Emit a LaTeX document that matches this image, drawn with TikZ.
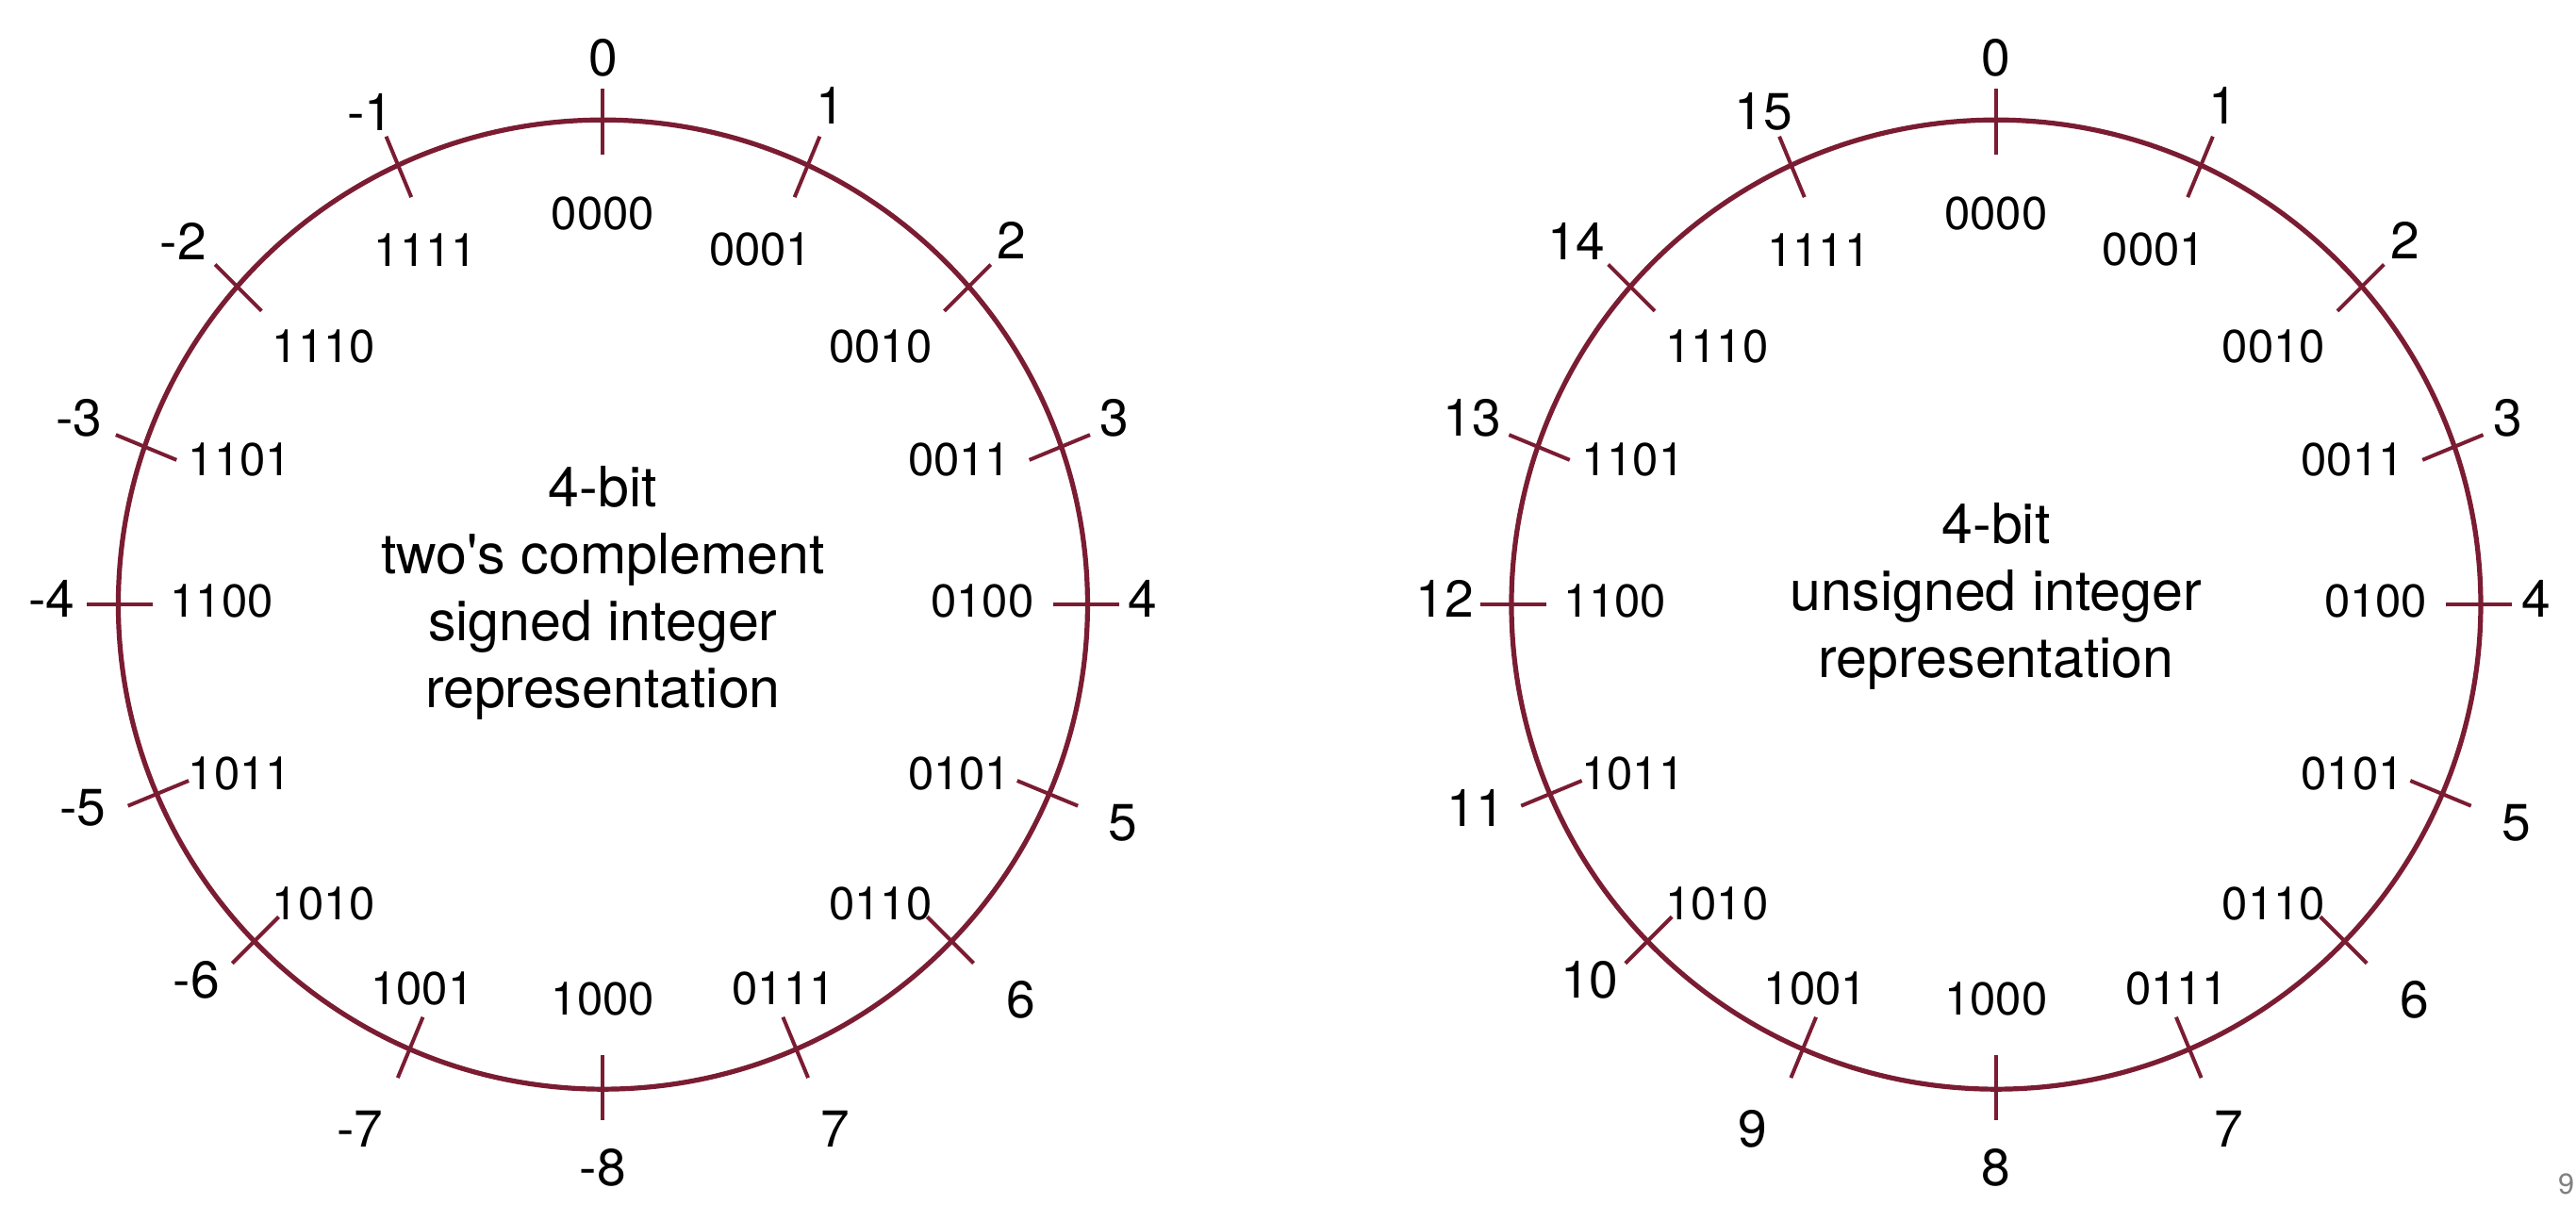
\documentclass[tikz,border=0pt]{standalone}
\usepackage{fontspec}
\setmainfont{TeX Gyre Heros}
\usepackage{tikz}
\usetikzlibrary{positioning,calc}
\definecolor{wheel}{RGB}{122,28,50}

% index / tick angle / value label x,y / bit label x,y / bits / signed value
\newcommand{\wheeldata}{%
    0/90/0/6.65/0/4.76/0000/0,
    1/65/2.77/6.08/1.92/4.32/0001/1,
    2/41/4.98/4.43/3.38/3.14/0010/2,
    3/19/6.23/2.27/4.34/1.76/0011/3,
    4/0/6.57/0.07/4.62/0.04/0100/4,
    5/-23/6.33/-2.66/4.34/-2.06/0101/5,
    6/-44/5.09/-4.81/3.38/-3.64/0110/6,
    7/-66.5/2.83/-6.38/2.2/-4.68/0111/7,
    8/-90/0/-6.85/0/-4.80/1000/-8,
    9/-113.5/-2.96/-6.38/-2.2/-4.68/1001/-7,
    10/-136/-4.95/-4.57/-3.40/-3.64/1010/-6,
    11/-157/-6.33/-2.48/-4.42/-2.06/1011/-5,
    12/180/-6.71/0.07/-4.64/0.04/1100/-4,
    13/161/-6.38/2.27/-4.42/1.76/1101/-3,
    14/139/-5.11/4.42/-3.40/3.14/1110/-2,
    15/115/-2.83/6.0/-2.16/4.32/1111/-1}

\begin{document}
\begin{tikzpicture}[
        ring/.style={draw=wheel, line width=1.7pt},
        tickmark/.style={draw=wheel, line width=1.3pt},
        val/.style={inner sep=0pt, font=\fontsize{18}{22}\selectfont},
        bits/.style={inner sep=0pt, font=\fontsize{16}{19}\selectfont},
        title/.style={align=center, font=\fontsize{19.3}{23.2}\selectfont}
    ]
        \useasboundingbox (0,0) rectangle (31.36,14.66);
        \coordinate (lc) at (7.34,7.30);
        \coordinate (rc) at (24.30,7.30);

        % Signed wheel
        \draw[ring] (lc) circle (5.9);
        \foreach \i/\t/\ox/\oy/\ix/\iy/\b/\s [evaluate=\i as \a using 90-22.5*\i] in \wheeldata {
            \draw[tickmark] ([shift={(\t:5.9)}]lc) ++(\a:-0.42) -- ++(\a:0.8);
            \node[val] (sv\i) at ([shift={(\ox,\oy)}]lc) {\s};
            \node[bits] (sb\i) at ([shift={(\ix,\iy)}]lc) {\b};
        }
        \node[title] (stitle) at ([yshift=0.14cm]lc) {4-bit\\two\textquotesingle s complement\\signed integer\\representation};

        % Unsigned wheel
        \draw[ring] (rc) circle (5.9);
        \foreach \i/\t/\ox/\oy/\ix/\iy/\b/\s [evaluate=\i as \a using 90-22.5*\i] in \wheeldata {
            \draw[tickmark] ([shift={(\t:5.9)}]rc) ++(\a:-0.42) -- ++(\a:0.8);
            \node[val] (uv\i) at ([shift={(\ox,\oy)}]rc) {\i};
            \node[bits] (ub\i) at ([shift={(\ix,\iy)}]rc) {\b};
        }
        \node[title] (utitle) at ([yshift=0.1cm]rc) {4-bit\\unsigned integer\\representation};

        % Page number
        \node[inner sep=0pt, font=\fontsize{10}{12}\selectfont, text=gray] (page) at (31.24,0.24) {9};
    \end{tikzpicture}
\end{document}
